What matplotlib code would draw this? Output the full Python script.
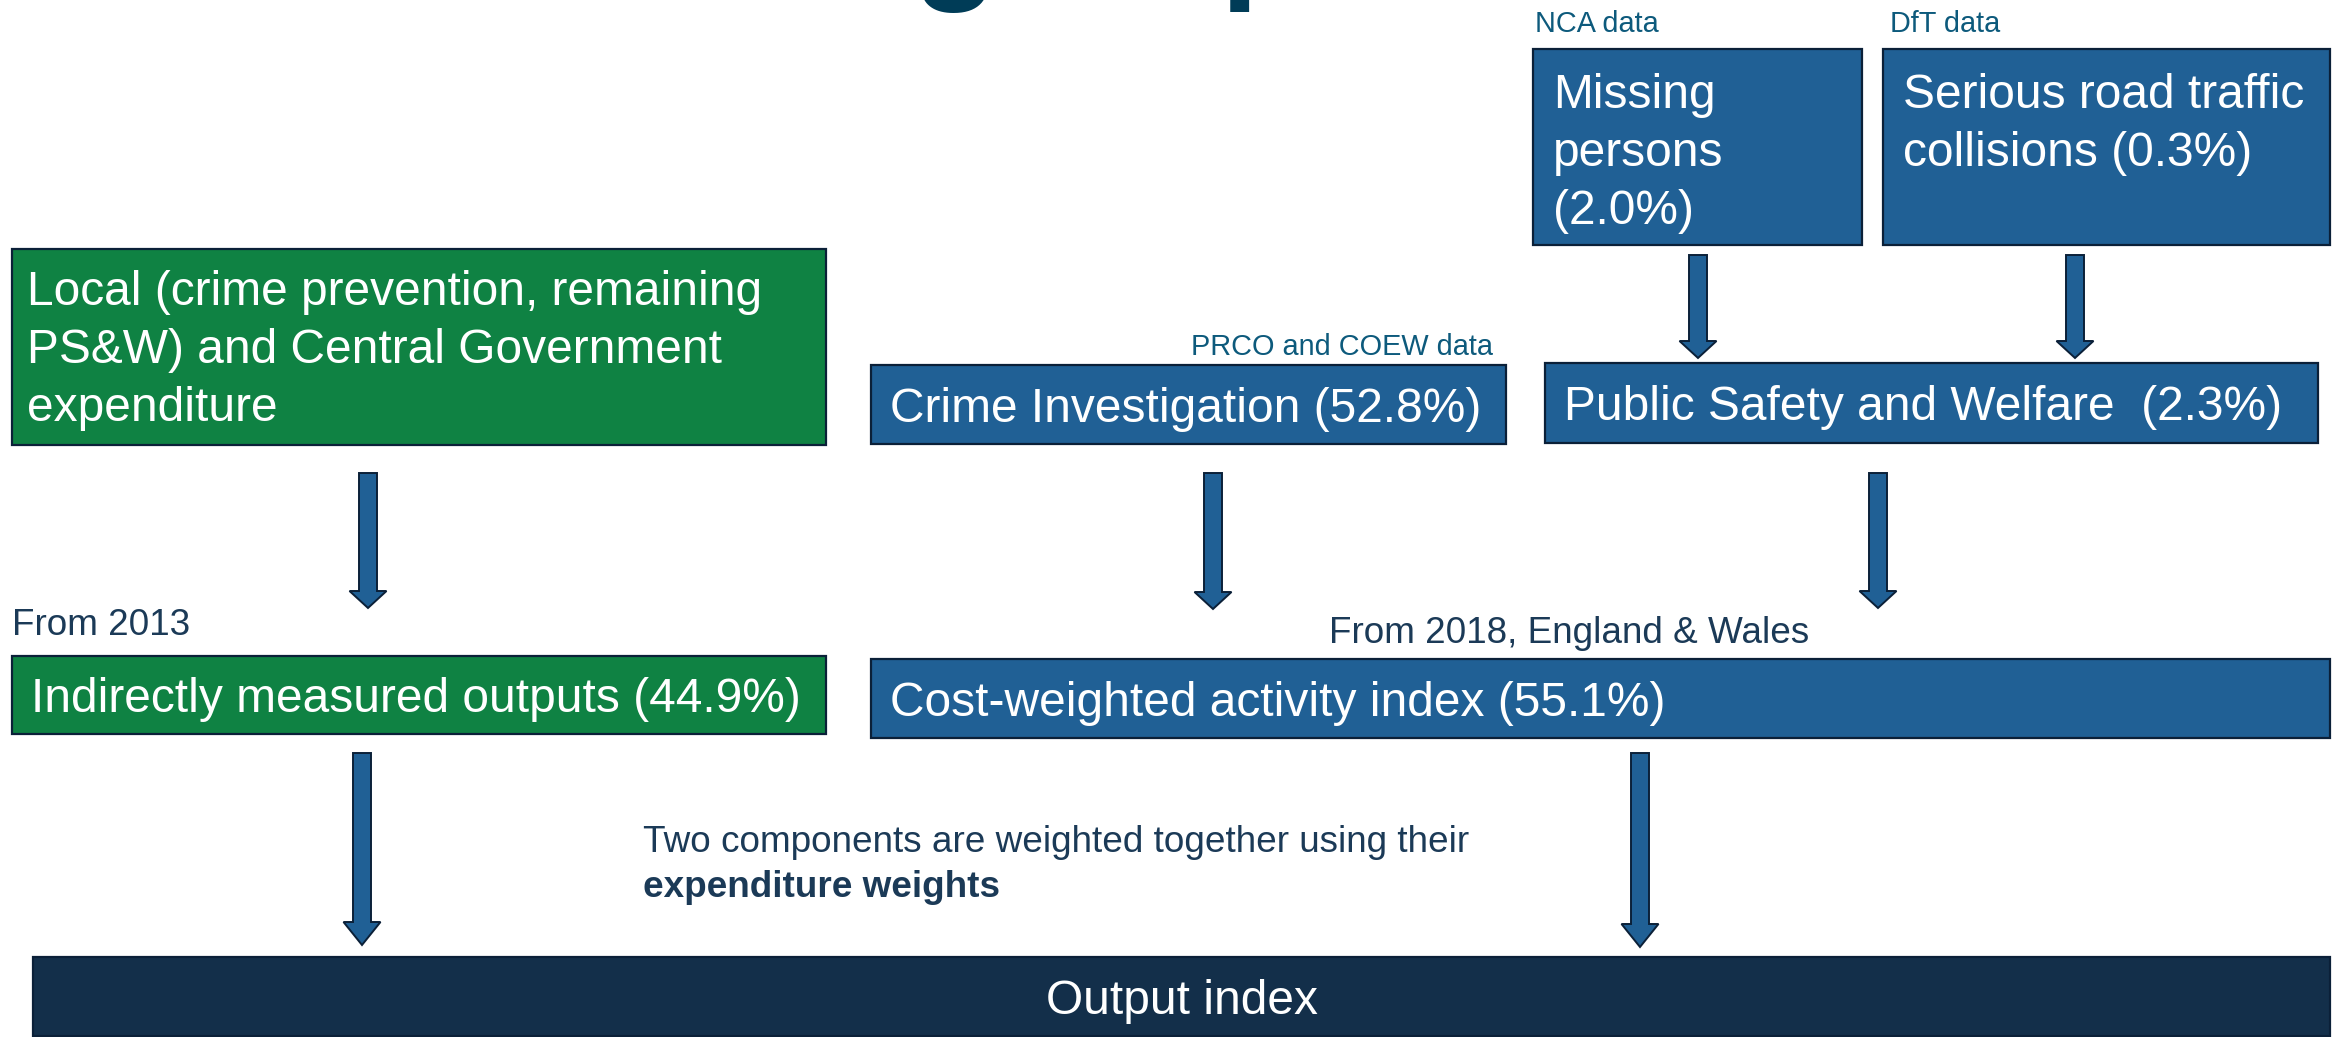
import matplotlib
matplotlib.use('Agg')
import matplotlib.pyplot as plt
from matplotlib.patches import Rectangle, FancyArrow

# ---- content of the diagram ----
titleTail = 'groups'

dataSources = ['NCA data', 'DfT data', 'PRCO and COEW data']

pswItems = ['Missing\npersons\n({:.1f}%)', 'Serious road traffic\ncollisions ({:.1f}%)']
pswShares = [2.0, 0.3]

activityItems = ['Crime Investigation', 'Public Safety and Welfare ']
activityShares = [52.8, 2.3]

localLabel = 'Local (crime prevention, remaining\nPS&W) and Central Government\nexpenditure'

groupItems = ['Indirectly measured outputs', 'Cost-weighted activity index']
groupShares = [44.9, 55.1]

periodNotes = ['From 2013', 'From 2018, England & Wales']

weightNote = ['Two components are weighted together using their', 'expenditure weights']
outputLabel = 'Output index'

# ---- styling ----
BLUE = '#206095'
GREEN = '#0f8243'
DARK = '#132f4a'
EDGE = '#0b2038'
TEXT = '#1b3a57'
SRC = '#0d5a7c'
TITLE = '#003c57'
BIG = 34.5
MID = 26.6
SMALL = 20.8
LINESTEP = 58  # px between baselines of the big box text

plt.rcParams['font.family'] = ['Liberation Sans', 'DejaVu Sans']

W, H = 2334, 1037
fig = plt.figure(figsize=(W / 100, H / 100), dpi=100)
ax = fig.add_axes([0, 0, 1, 1])
ax.set_xlim(0, W)
ax.set_ylim(H, 0)
ax.axis('off')


def box(x0, y0, x1, y1, color):
    ax.add_patch(Rectangle((x0, y0), x1 - x0, y1 - y0, facecolor=color,
                           edgecolor=EDGE, linewidth=1.6, zorder=2))


def arrow(x, yStart, yTip, headLen):
    ax.add_patch(FancyArrow(x, yStart, 0, yTip - yStart, width=18, head_width=37,
                            head_length=headLen, length_includes_head=True,
                            facecolor=BLUE, edgecolor=EDGE, linewidth=1.4, zorder=3))


def label(x, y, s, size=BIG, color='white', **kw):
    # one text per line so every baseline sits where it should
    for i, line in enumerate(s.split('\n')):
        ax.text(x, y + i * LINESTEP, line, fontsize=size, color=color,
                va='baseline', zorder=4, **kw)


# title (only the descenders are visible above the crop)
ax.text(912, -17, titleTail, fontsize=100, fontweight='bold', color=TITLE,
        va='baseline', clip_on=False)

# top row: PS&W sub components
topBoxes = [(1533, 1862), (1883, 2330)]
srcOffsets = [2, 7]
for (x0, x1), off, src, item, share in zip(topBoxes, srcOffsets, dataSources[:2], pswItems, pswShares):
    box(x0, 49, x1, 245, BLUE)
    label(x0 + off, 32, src, size=SMALL, color=SRC)
    label(x0 + 20, 108, item.format(share))

arrow(1698, 255, 358, 17)
arrow(2075, 255, 358, 17)

# middle row
box(12, 249, 826, 445, GREEN)
label(27, 305, localLabel)

midBoxes = [(871, 365, 1506, 444), (1545, 363, 2318, 443)]
for (x0, y0, x1, y1), item, share in zip(midBoxes, activityItems, activityShares):
    box(x0, y0, x1, y1, BLUE)
    label(x0 + 19, (y0 + y1) / 2 + 17, f'{item} ({share:.1f}%)')
label(1493, 355, dataSources[2], size=SMALL, color=SRC, ha='right')

arrow(368, 473, 608, 17)
arrow(1213, 473, 609, 17)
arrow(1878, 473, 608, 17)

# component groups
groupBoxes = [(12, 656, 826, 734, GREEN), (871, 659, 2330, 738, BLUE)]
for (x0, y0, x1, y1, c), item, share in zip(groupBoxes, groupItems, groupShares):
    box(x0, y0, x1, y1, c)
    label(x0 + 19, (y0 + y1) / 2 + 17, f'{item} ({share:.1f}%)')
label(12, 635, periodNotes[0], size=MID, color=TEXT)
label(1329, 643, periodNotes[1], size=MID, color=TEXT)

arrow(362, 753, 945, 23)
arrow(1640, 753, 947, 23)

label(643, 852, weightNote[0], size=MID, color=TEXT)
label(643, 897, weightNote[1], size=MID, color=TEXT, fontweight='bold')

# output
box(33, 957, 2330, 1036, DARK)
label((33 + 2330) / 2, 1014, outputLabel, ha='center')

fig.savefig('out.png', dpi=100)
